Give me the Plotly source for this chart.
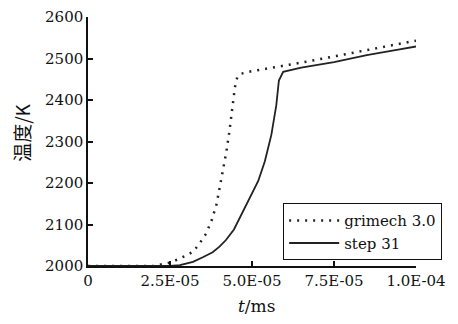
import plotly.graph_objects as go

# Data
t_grimech = [0, 2.0e-5, 2.5e-5, 2.8e-5, 3.2e-5, 3.4e-5, 3.6e-5, 3.77e-5, 3.92e-5, 4.02e-5,
             4.12e-5, 4.22e-5, 4.31e-5, 4.38e-5, 4.43e-5, 4.48e-5, 4.55e-5, 4.65e-5, 4.9e-5,
             5.45e-5, 6.5e-5, 7.5e-5, 8.5e-5, 9.5e-5, 1.0e-4]
T_grimech = [2000, 2000, 2008, 2018, 2034, 2054, 2078, 2110, 2149, 2189,
             2229, 2276, 2324, 2371, 2411, 2431, 2455, 2463, 2468,
             2475, 2490, 2505, 2520, 2535, 2543]

t_step31 = [0, 2.5e-5, 2.8e-5, 3.2e-5, 3.5e-5, 3.8e-5, 4.0e-5, 4.2e-5, 4.45e-5, 4.78e-5,
            5.05e-5, 5.19e-5, 5.39e-5, 5.59e-5, 5.74e-5, 5.82e-5, 5.95e-5, 6.5e-5, 7.5e-5,
            8.5e-5, 9.5e-5, 1.0e-4]
T_step31 = [2000, 2000, 2002, 2010, 2021, 2033, 2046, 2062, 2088, 2141,
            2181, 2205, 2252, 2316, 2387, 2447, 2468, 2478, 2491,
            2508, 2522, 2529]

x_tickvals = [0, 2.5e-5, 5.0e-5, 7.5e-5, 1.0e-4]
x_ticktext = ["0", "2.5E-05", "5.0E-05", "7.5E-05", "1.0E-04"]
y_tickvals = [2000, 2100, 2200, 2300, 2400, 2500, 2600]

serif = "DejaVu Serif"

fig = go.Figure()
fig.add_trace(go.Scatter(x=t_grimech, y=T_grimech, mode="lines", name="grimech 3.0",
                         line=dict(color="#222222", width=2.5, dash="2px,6px")))
fig.add_trace(go.Scatter(x=t_step31, y=T_step31, mode="lines", name="step 31",
                         line=dict(color="#222222", width=1.8)))

# page body has an 8px margin, so the figure is drawn 8px in from the top-left
fig.update_layout(
    width=450, height=316,
    margin=dict(l=80, r=42, t=9, b=58, autoexpand=False),
    paper_bgcolor="white", plot_bgcolor="white",
    font=dict(family=serif, size=15, color="#111111"),
    showlegend=True,
    legend=dict(x=0.595, y=0.252, xanchor="left", yanchor="top",
                bordercolor="#111111", borderwidth=1, bgcolor="white",
                font=dict(family=serif, size=15), tracegroupgap=0,
                itemwidth=50),
    xaxis=dict(range=[0, 1.0e-4], tickvals=x_tickvals, ticktext=x_ticktext,
               ticks="inside", ticklen=5, tickwidth=1.5, tickcolor="#111111",
               showline=True, linecolor="#111111", linewidth=1.5,
               showgrid=False, zeroline=False, automargin=False,
               tickfont=dict(family=serif, size=15)),
    yaxis=dict(range=[2000, 2600], tickvals=y_tickvals,
               ticks="inside", ticklen=5, tickwidth=1.5, tickcolor="#111111",
               showline=True, linecolor="#111111", linewidth=1.5,
               showgrid=False, zeroline=False, automargin=False,
               ticklabeloverflow="allow",
               tickfont=dict(family=serif, size=15)),
    annotations=[
        dict(text="<i>t</i>/ms", xref="paper", yref="paper", x=0.515, y=-0.16,
             xanchor="center", yanchor="middle", showarrow=False,
             font=dict(family=serif, size=17)),
        dict(text="温度/K", xref="paper", yref="paper", x=-0.201, y=0.535,
             xanchor="center", yanchor="middle", showarrow=False, textangle=-90,
             font=dict(family="Noto Sans CJK SC", size=19)),
    ],
)

fig.write_html("out.html")
